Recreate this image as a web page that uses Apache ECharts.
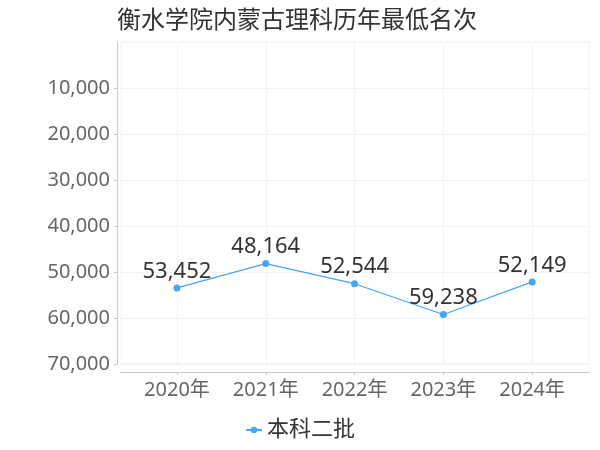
<!DOCTYPE html>
<html>
<head>
<meta charset="utf-8">
<script src="https://cdn.jsdelivr.net/npm/echarts@6/dist/echarts.min.js"></script>
<style>html,body{margin:0;padding:0;background:#fff}#c{width:600px;height:450px}</style>
</head>
<body>
<div id="c"></div>
<script>
var titleText = '衡水学院内蒙古理科历年最低名次';
var years = ['2020年', '2021年', '2022年', '2023年', '2024年'];
var seriesName = '本科二批';
var ranks = [53452, 48164, 52544, 59238, 52149];
var yTicks = [0, 10000, 20000, 30000, 40000, 50000, 60000, 70000];

var FONT = 'Noto Sans, Noto Sans CJK SC, sans-serif';
function fmt(n) { return String(n).replace(/\B(?=(\d{3})+(?!\d))/g, ','); }
var idx = years.map(function (_, i) { return i; });

var chart = echarts.init(document.getElementById('c'));
chart.setOption({
  backgroundColor: '#fff',
  animation: false,
  title: {
    text: titleText, left: 112, top: 4,
    textStyle: { fontSize: 24, fontWeight: 'normal', color: '#333', fontFamily: FONT }
  },
  legend: {
    data: [seriesName], bottom: 4, left: 'center',
    itemWidth: 16, itemHeight: 8, itemGap: 10,
    textStyle: { fontSize: 22, color: '#333', fontFamily: FONT }
  },
  grid: {
    left: 121, right: 11, top: 42, bottom: 86,
    show: true, borderColor: '#f2f2f2', borderWidth: 1
  },
  xAxis: {
    type: 'value', min: -0.63, max: 4.64,
    axisLine: { show: true, onZero: false, lineStyle: { color: '#c8c8c8' } },
    offset: 8,
    axisTick: { show: true, length: 3, customValues: idx, lineStyle: { color: '#c8c8c8' } },
    axisLabel: {
      customValues: idx, margin: 8, fontSize: 20, color: '#666', fontFamily: FONT,
      formatter: function (v) { return years[Math.round(v)] || ''; }
    },
    splitLine: { show: true, lineStyle: { color: '#f2f2f2' } }
  },
  yAxis: {
    type: 'value', inverse: true, min: yTicks[0], max: yTicks[yTicks.length - 1], interval: 10000,
    offset: 4,
    axisLine: { show: true, onZero: false, lineStyle: { color: '#c8c8c8' } },
    axisTick: { show: true, length: 3, lineStyle: { color: '#c8c8c8' } },
    axisLabel: {
      margin: 7, fontSize: 20, color: '#666', fontFamily: FONT, showMinLabel: false,
      formatter: function (v) { return v === 0 ? '' : fmt(v); }
    },
    splitLine: { show: true, lineStyle: { color: '#f2f2f2' } }
  },
  series: [{
    name: seriesName, type: 'line',
    data: ranks.map(function (v, i) { return [i, v]; }),
    symbol: 'circle', symbolSize: 7,
    itemStyle: { color: '#45a5fb' },
    lineStyle: { color: '#45a5fb', width: 1.2 },
    label: {
      show: true, position: 'top', distance: 2, fontSize: 22, color: '#333', fontFamily: FONT,
      formatter: function (p) { return fmt(p.value[1]); }
    }
  }]
});
</script>
</body>
</html>
